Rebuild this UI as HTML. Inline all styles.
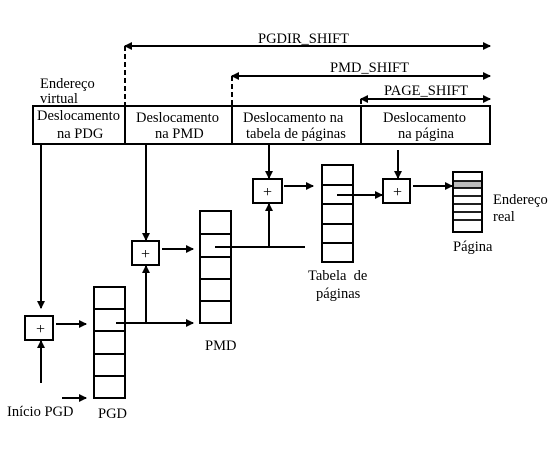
<!DOCTYPE html>
<html><head><style>body{margin:0;background:#fff}svg{display:block}text{font-family:"Liberation Serif",serif;font-size:14.5px;fill:#000}</style></head><body>
<svg width="558" height="467" viewBox="0 0 558 467">
<defs><marker id="a" markerWidth="8" markerHeight="8" refX="7" refY="4" orient="auto-start-reverse" markerUnits="userSpaceOnUse"><path d="M0,0L8,4L0,8z" fill="#000"/></marker></defs>
<g stroke="#000" stroke-width="2" fill="none">
<rect x="33" y="106" width="457" height="38"/>
<line x1="125" y1="106" x2="125" y2="144"/><line x1="232" y1="106" x2="232" y2="144"/><line x1="361" y1="106" x2="361" y2="144"/>
<g stroke-dasharray="5,3"><line x1="125" y1="46" x2="125" y2="106"/><line x1="232" y1="76" x2="232" y2="106"/><line x1="361" y1="99" x2="361" y2="106"/></g>
<line x1="125" y1="46" x2="490" y2="46" marker-start="url(#a)" marker-end="url(#a)"/>
<line x1="232" y1="76" x2="490" y2="76" marker-start="url(#a)" marker-end="url(#a)"/>
<line x1="361" y1="99" x2="490" y2="99" marker-start="url(#a)" marker-end="url(#a)"/>
<line x1="41" y1="144" x2="41" y2="308" marker-end="url(#a)"/>
<rect x="25" y="316" width="28" height="24"/>
<line x1="41" y1="383" x2="41" y2="341" marker-end="url(#a)"/>
<line x1="56" y1="324" x2="86" y2="324" marker-end="url(#a)"/>
<line x1="62" y1="398" x2="86" y2="398" marker-end="url(#a)"/>
<rect x="94" y="287" width="31" height="111"/>
<path d="M94 309H125M94 331H125M94 354H125M94 376H125"/>
<line x1="116" y1="323" x2="193" y2="323" marker-end="url(#a)"/>
<line x1="146" y1="323" x2="146" y2="266" marker-end="url(#a)"/>
<rect x="132" y="241" width="27" height="24"/>
<line x1="146" y1="144" x2="146" y2="240" marker-end="url(#a)"/>
<line x1="162" y1="249" x2="193" y2="249" marker-end="url(#a)"/>
<rect x="200" y="211" width="31" height="112"/>
<path d="M200 234H231M200 257H231M200 279H231M200 301H231"/>
<line x1="215" y1="247" x2="305" y2="247"/>
<line x1="269" y1="247" x2="269" y2="204" marker-end="url(#a)"/>
<rect x="253" y="179" width="29" height="24"/>
<line x1="269" y1="144" x2="269" y2="178" marker-end="url(#a)"/>
<line x1="284" y1="186" x2="313" y2="186" marker-end="url(#a)"/>
<rect x="322" y="165" width="31" height="97"/>
<path d="M322 185H353M322 204H353M322 224H353M322 243H353"/>
<line x1="337" y1="195" x2="382" y2="195" marker-end="url(#a)"/>
<rect x="383" y="179" width="27" height="24"/>
<line x1="398" y1="150" x2="398" y2="178" marker-end="url(#a)"/>
<line x1="413" y1="186" x2="452" y2="186" marker-end="url(#a)"/>
<rect x="453" y="181" width="29" height="7" fill="#bbb" stroke="none"/>
<rect x="453" y="172" width="29" height="60"/>
<path d="M453 181H482M453 188H482M453 196H482M453 204H482M453 212H482M453 220H482" stroke-width="1.8"/>
</g>
<g><text x="36" y="334" style="font-size:16px">+</text><text x="141" y="259" style="font-size:16px">+</text><text x="263" y="197" style="font-size:16px">+</text><text x="393" y="197" style="font-size:16px">+</text></g>
<text x="258" y="43">PGDIR_SHIFT</text>
<text x="330" y="72">PMD_SHIFT</text>
<text x="384" y="95">PAGE_SHIFT</text>
<text x="40" y="88">Endereço</text><text x="40" y="103">virtual</text>
<text x="37" y="120">Deslocamento</text><text x="57" y="138">na PDG</text>
<text x="136" y="122">Deslocamento</text><text x="155" y="138">na PMD</text>
<text x="243" y="122">Deslocamento na</text><text x="246" y="138">tabela de páginas</text>
<text x="383" y="122">Deslocamento</text><text x="398" y="138">na página</text>
<text x="493" y="204">Endereço</text><text x="493" y="221">real</text>
<text x="453" y="251">Página</text>
<text x="308" y="280">Tabela&#160; de</text><text x="316" y="298">páginas</text>
<text x="205" y="350">PMD</text>
<text x="98" y="418">PGD</text>
<text x="7" y="416">Início PGD</text>
</svg>
</body></html>
